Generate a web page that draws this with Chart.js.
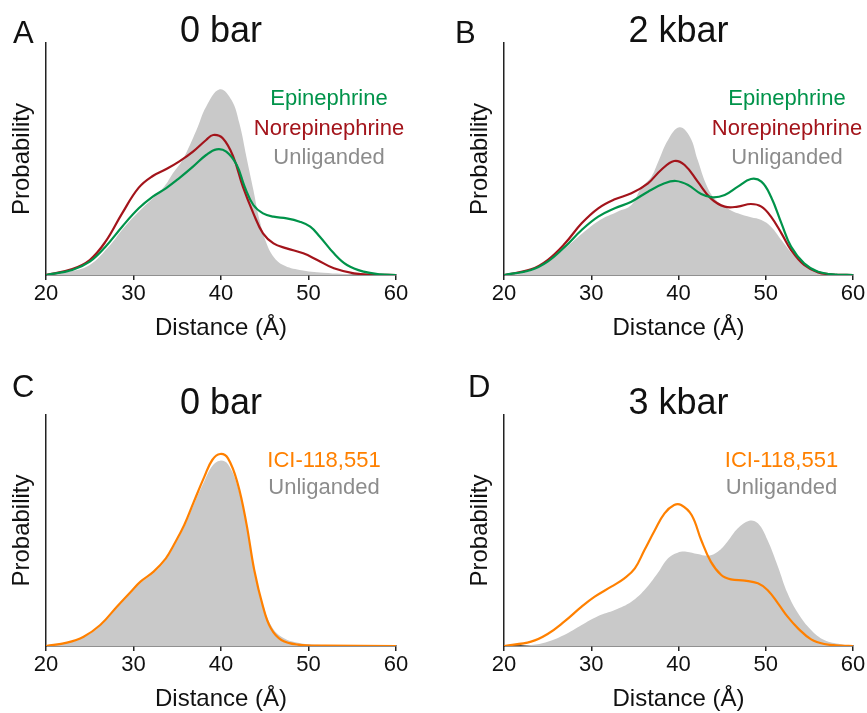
<!DOCTYPE html>
<html>
<head>
<meta charset="utf-8">
<script src="https://cdn.jsdelivr.net/npm/chart.js@4.4.0/dist/chart.umd.min.js"></script>
<style>
  body { margin: 0; background: #fff; width: 867px; height: 713px; position: relative; overflow: hidden; }
  canvas { position: absolute; }
</style>
</head>
<body>
<canvas id="chartA" width="433" height="355" style="left:0;top:0"></canvas>
<canvas id="chartB" width="434" height="355" style="left:433px;top:0"></canvas>
<canvas id="chartC" width="433" height="358" style="left:0;top:355px"></canvas>
<canvas id="chartD" width="434" height="358" style="left:433px;top:355px"></canvas>
<script>
// --- data (distance in Å, probability in arbitrary units) ---
const xTicks = [20, 30, 40, 50, 60];

// A: 0 bar, agonists
const aUnligX = [20, 23, 25, 27, 29, 31, 33.5, 34.5, 35.6, 37.2, 38.3, 39.85, 41.2, 42.1, 42.9, 43.7, 44.4, 45.2, 46, 47.1, 49, 51.7, 55.6, 60];
const aUnligY = [0, 12, 30, 80, 145, 200, 265, 305, 345, 435, 505, 557, 525, 455, 355, 255, 165, 95, 55, 30, 15, 7, 2, 0];
const aEpiX = [20, 23, 25, 26.8, 28.7, 30.6, 32.2, 33.7, 35.2, 36.8, 38.3, 39.5, 40.6, 41.8, 42.7, 43.7, 44.8, 46, 47.5, 49, 50.2, 51.3, 52.9, 54.4, 56.3, 58.2, 60];
const aEpiY = [0, 15, 40, 85, 145, 200, 235, 260, 290, 325, 360, 377, 370, 330, 265, 210, 185, 175, 170, 160, 145, 115, 65, 30, 10, 2, 0];
const aNorX = [20, 23, 25, 26.8, 28.7, 30.6, 32.2, 33.7, 35.2, 36.8, 38.3, 39.1, 40.2, 41.4, 42.5, 43.7, 44.8, 46, 47.5, 49.4, 51, 52.9, 55.2, 57.5, 60];
const aNorY = [0, 18, 45, 100, 185, 262, 297, 317, 340, 370, 405, 420, 410, 355, 265, 185, 125, 95, 80, 65, 45, 20, 5, 1, 0];

// B: 2 kbar, agonists
const bUnligX = [20, 23, 25, 27, 29, 31, 33, 34.6, 35.7, 36.9, 37.6, 38.8, 40.1, 41.3, 42.2, 43.2, 44.1, 45.3, 46.8, 48.3, 49.5, 50.6, 51.8, 53, 54.4, 56, 57.5, 60];
const bUnligY = [0, 12, 40, 80, 125, 165, 190, 210, 260, 295, 335, 405, 443, 415, 345, 270, 230, 205, 185, 173, 165, 145, 105, 65, 30, 10, 3, 0];
const bEpiX = [20, 23.1, 25, 27, 28.9, 30.8, 32.7, 34.6, 36.5, 38.4, 39.7, 41.1, 42.6, 43.9, 45.3, 46.8, 48.3, 49.5, 50.6, 51.8, 52.9, 54.4, 56, 58.2, 60];
const bEpiY = [0, 15, 40, 85, 135, 175, 200, 220, 250, 275, 282, 270, 243, 233, 240, 265, 288, 280, 235, 155, 85, 35, 10, 1, 0];
const bNorX = [20, 23.1, 25, 27, 28.9, 30.8, 32.7, 34.6, 36.5, 38, 39.5, 40.7, 42.2, 43.7, 45.3, 46.8, 48.3, 49.5, 50.6, 51.8, 52.9, 54.4, 56, 57.9, 60];
const bNorY = [0, 17, 45, 95, 155, 200, 227, 245, 275, 315, 342, 330, 280, 230, 205, 205, 213, 205, 175, 125, 75, 30, 8, 1, 0];

// C: 0 bar, inverse agonist
const cUnligX = [20, 22.4, 24.3, 26.2, 28.1, 29.7, 30.8, 32.3, 33.7, 34.6, 35.8, 36.9, 38.1, 39, 39.9, 40.8, 41.9, 42.9, 43.8, 44.8, 45.7, 46.9, 48.8, 51.9, 56, 60];
const cUnligY = [0, 9, 26, 60, 114, 159, 189, 219, 259, 298, 357, 425, 495, 540, 556, 545, 478, 365, 232, 125, 62, 28, 10, 3, 1, 0];
const cIciX = [20, 22.4, 24.3, 26.2, 28.1, 29.7, 30.8, 32.3, 33.7, 34.6, 35.8, 36.9, 38.1, 39, 39.9, 40.8, 41.9, 42.9, 43.8, 44.8, 45.7, 46.9, 48.8, 51.9, 60];
const cIciY = [0, 10, 28, 63, 118, 163, 193, 223, 263, 303, 363, 433, 508, 558, 576, 563, 488, 368, 228, 118, 53, 18, 4, 1, 0];

// D: 3 kbar, inverse agonist
const dUnligX = [20, 23.1, 25, 26.9, 28.9, 30.8, 32.7, 34.6, 36.1, 37.6, 38.8, 39.9, 40.9, 42.2, 43.4, 44.5, 45.6, 46.8, 48.1, 49.1, 50.2, 51.4, 52.5, 53.7, 55.2, 56.7, 58.6, 60];
const dUnligY = [0, 3, 13, 33, 63, 90, 108, 133, 168, 218, 263, 280, 283, 276, 271, 283, 313, 353, 376, 368, 318, 238, 158, 98, 48, 18, 5, 0];
const dIciX = [20, 23.1, 25, 26.9, 28.9, 30.4, 32.3, 33.8, 35, 36.1, 37.3, 38.4, 39.5, 40.3, 41.5, 42.6, 43.7, 44.9, 46, 47.6, 49.1, 50.2, 51.4, 52.5, 53.7, 55.2, 56.7, 58.6, 60];
const dIciY = [0, 13, 36, 73, 118, 148, 178, 203, 233, 288, 348, 398, 423, 423, 393, 318, 253, 213, 200, 196, 188, 168, 128, 88, 53, 20, 6, 1, 0];

const legendAgonist = ['Epinephrine', 'Norepinephrine', 'Unliganded'];
const legendInverse = ['ICI-118,551', 'Unliganded'];

// --- styles ---
const FONT = 'Arial, "Liberation Sans", Helvetica, sans-serif';
const GREEN = '#00934a';
const RED = '#a3141b';
const ORANGE = '#ff8000';
const GRAY_FILL = '#c9c9c9';
const GRAY_TEXT = '#8c8c8c';
const INK = '#111';

const pts = (xs, ys) => xs.map((x, i) => ({ x: x, y: ys[i] }));

// panel letter, title and coloured legend text
const panelText = {
  id: 'panelText',
  afterDraw(chart, args, o) {
    const { ctx, chartArea: a } = chart;
    ctx.save();
    ctx.textBaseline = 'alphabetic';
    ctx.fillStyle = INK;
    ctx.font = '31px ' + FONT;
    ctx.textAlign = 'left';
    ctx.fillText(o.letter, o.letterX, a.top + o.letterDy);
    ctx.font = '36px ' + FONT;
    ctx.textAlign = 'center';
    ctx.fillText(o.title, (a.left + a.right) / 2, a.top - 1);
    ctx.font = '22px ' + FONT;
    o.legend.forEach((t, i) => {
      ctx.fillStyle = o.colors[i];
      ctx.fillText(t, a.right + o.legendDx, a.top + o.legendDy + i * o.legendGap);
    });
    ctx.restore();
  }
};

function makePanel(id, p) {
  const W = p.w, H = p.h;
  const datasets = p.lines.map(l => ({
    label: l.label,
    data: pts(l.x, l.y),
    borderColor: l.color,
    borderWidth: 2.2,
    pointRadius: 0,
    fill: false,
    tension: 0.4
  }));
  datasets.push({
    label: 'Unliganded',
    data: pts(p.grayX, p.grayY),
    borderWidth: 0,
    borderColor: GRAY_FILL,
    backgroundColor: GRAY_FILL,
    fill: 'origin',
    pointRadius: 0,
    tension: 0.4
  });

  return new Chart(document.getElementById(id), {
    type: 'line',
    data: { datasets: datasets },
    options: {
      responsive: false,
      animation: false,
      events: [],
      layout: { padding: { left: 0, top: p.area.top, right: W - p.area.right, bottom: 0 } },
      scales: {
        x: {
          type: 'linear',
          min: 20, max: 60,
          afterBuildTicks: s => { s.ticks = xTicks.map(v => ({ value: v })); },
          afterFit: s => { s.height = H - p.area.bottom; },
          ticks: { color: INK, padding: 1, font: { family: FONT, size: 22 } },
          grid: { display: true, drawOnChartArea: false, drawTicks: true, tickLength: 5, color: '#222', lineWidth: 1.5 },
          border: { display: true, color: '#222', width: 1.5 },
          title: {
            display: true, text: 'Distance (Å)', color: INK,
            font: { family: FONT, size: 24, lineHeight: 1 },
            padding: { top: 0, bottom: H - p.area.bottom - 53.5 - 12 }
          }
        },
        y: {
          min: 0, max: p.yMax,
          afterFit: s => { s.width = p.area.left; },
          ticks: { display: false },
          grid: { display: false },
          border: { display: true, color: '#222', width: 1.5 },
          title: {
            display: true, text: 'Probability', color: INK,
            font: { family: FONT, size: 24, lineHeight: 1 },
            padding: { top: p.area.left - 24 - 12, bottom: 0 }
          }
        }
      },
      plugins: {
        legend: { display: false },
        tooltip: { enabled: false },
        panelText: p.text
      }
    },
    plugins: [panelText]
  });
}

makePanel('chartA', {
  w: 433, h: 355, yMax: 696,
  area: { left: 46, top: 43, right: 396, bottom: 275 },
  lines: [
    { label: 'Epinephrine', x: aEpiX, y: aEpiY, color: GREEN },
    { label: 'Norepinephrine', x: aNorX, y: aNorY, color: RED }
  ],
  grayX: aUnligX, grayY: aUnligY,
  text: { letter: 'A', letterX: 13, letterDy: 0, title: '0 bar', legend: legendAgonist,
          colors: [GREEN, RED, GRAY_TEXT], legendDx: -67, legendDy: 62, legendGap: 29.5 }
});

makePanel('chartB', {
  w: 434, h: 355, yMax: 696,
  area: { left: 71, top: 43, right: 420, bottom: 275 },
  lines: [
    { label: 'Epinephrine', x: bEpiX, y: bEpiY, color: GREEN },
    { label: 'Norepinephrine', x: bNorX, y: bNorY, color: RED }
  ],
  grayX: bUnligX, grayY: bUnligY,
  text: { letter: 'B', letterX: 22, letterDy: 0, title: '2 kbar', legend: legendAgonist,
          colors: [GREEN, RED, GRAY_TEXT], legendDx: -66, legendDy: 62, legendGap: 29.5 }
});

makePanel('chartC', {
  w: 433, h: 358, yMax: 693,
  area: { left: 46, top: 60, right: 396, bottom: 291 },
  lines: [
    { label: 'ICI-118,551', x: cIciX, y: cIciY, color: ORANGE }
  ],
  grayX: cUnligX, grayY: cUnligY,
  text: { letter: 'C', letterX: 12, letterDy: -18, title: '0 bar', legend: legendInverse,
          colors: [ORANGE, GRAY_TEXT], legendDx: -72, legendDy: 52, legendGap: 27.3 }
});

makePanel('chartD', {
  w: 434, h: 358, yMax: 693,
  area: { left: 71, top: 60, right: 420, bottom: 291 },
  lines: [
    { label: 'ICI-118,551', x: dIciX, y: dIciY, color: ORANGE }
  ],
  grayX: dUnligX, grayY: dUnligY,
  text: { letter: 'D', letterX: 35, letterDy: -18, title: '3 kbar', legend: legendInverse,
          colors: [ORANGE, GRAY_TEXT], legendDx: -71.5, legendDy: 52, legendGap: 27.3 }
});
</script>
</body>
</html>
